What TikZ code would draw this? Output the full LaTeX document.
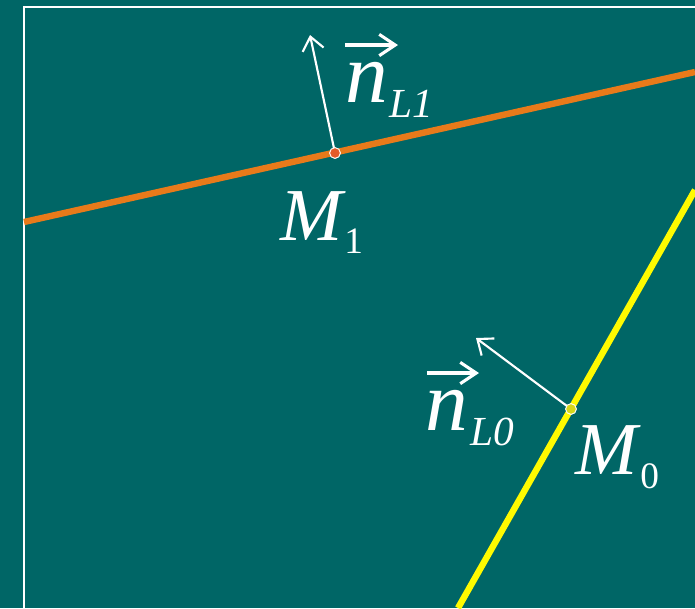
\documentclass[tikz,border=0pt]{standalone}
\usepackage{fontspec}
\setmainfont{Liberation Serif}
\usetikzlibrary{arrows.meta}
\definecolor{bg}{RGB}{0,102,102}
\definecolor{orl}{RGB}{232,122,26}
\definecolor{ordot}{RGB}{228,90,40}
\definecolor{yel}{RGB}{255,250,0}
\definecolor{yeldot}{RGB}{215,215,25}
\tikzset{
  frame/.style={white, line width=1.3pt},
  orangeline/.style={orl, line width=4.8pt},
  yellowline/.style={yel, line width=4.8pt},
  normalvec/.style={white, line width=1.6pt, -{Straight Barb[length=10pt,width=16pt,line width=1.6pt]}},
  vecbar/.style={white, line width=2.3pt, -{Straight Barb[length=12pt,width=16pt,line width=2.3pt]}},
  ptdot/.style={circle, draw=white, line width=0.6pt, minimum size=8pt, inner sep=0pt},
  bigM/.style={text=white, inner sep=0pt, font=\fontsize{56}{60}\selectfont\itshape},
  msub/.style={text=white, inner sep=0pt, font=\fontsize{28}{30}\selectfont},
  bign/.style={text=white, inner sep=0pt, font=\fontsize{64}{66}\selectfont\itshape},
  nsub/.style={text=white, inner sep=0pt, font=\fontsize{31}{33}\selectfont\itshape},
}
\begin{document}
\begin{tikzpicture}[x=0.75pt,y=-0.75pt]
\fill[bg] (0,0) rectangle (695,608);
\useasboundingbox (0,0) rectangle (695,608);
\coordinate (F0) at (24,608);
\coordinate (F1) at (24,7);
\coordinate (F2) at (695,7);
\draw[frame] (F0) -- (F1) -- (F2);
% orange line L1
\coordinate (A1) at (24,222);
\coordinate (B1) at (695,72);
\draw[orangeline] (A1) -- (B1);
% yellow line L0
\coordinate (A0) at (458,608);
\coordinate (B0) at (695,190);
\draw[yellowline] (A0) -- (B0);
% normals
\coordinate (T1) at (310,35);
\coordinate (T0) at (476,338);
\node[ptdot, fill=ordot] (M1) at (335,153) {};
\node[ptdot, fill=yeldot] (M0) at (571,409) {};
\draw[normalvec] (M1.center) -- (T1);
\draw[normalvec] (M0.center) -- (T0);
\node[ptdot, fill=ordot] at (M1) {};
\node[ptdot, fill=yeldot] at (M0) {};
% labels M
\node[bigM, anchor=base west] (LM1) at (280,240) {M};
\node[msub, anchor=base west] (LM1s) at (344,253) {1};
\node[bigM, anchor=base west] (LM0) at (575,474) {M};
\node[msub, anchor=base west] (LM0s) at (640,488) {0};
% labels n_L1
\node[bign, anchor=base west] (N1) at (345,102) {n};
\node[nsub, anchor=base west] (N1s) at (389,117) {L1};
\coordinate (V1a) at (345,45);
\coordinate (V1b) at (398,45);
\draw[vecbar] (V1a) -- (V1b);
% labels n_L0
\node[bign, anchor=base west] (N0) at (425,430) {n};
\node[nsub, anchor=base west] (N0s) at (470,445) {L0};
\coordinate (V0a) at (427,373);
\coordinate (V0b) at (479,373);
\draw[vecbar] (V0a) -- (V0b);
\end{tikzpicture}
\end{document}
